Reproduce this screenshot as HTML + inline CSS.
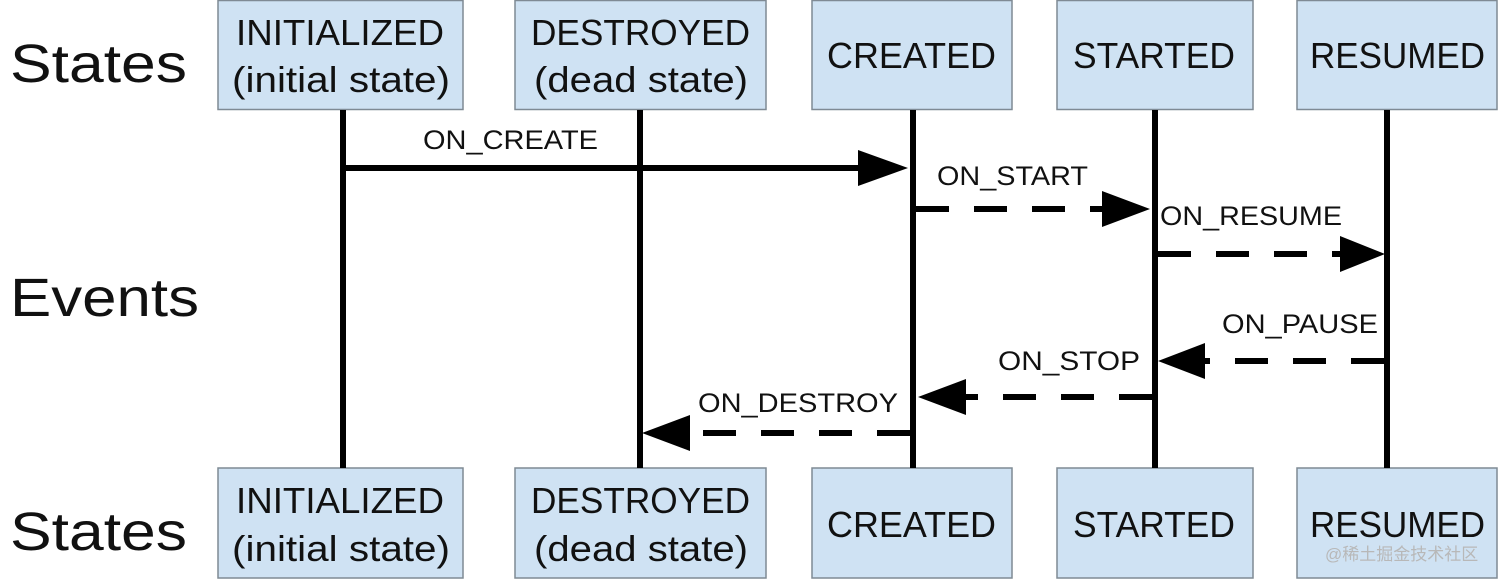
<!DOCTYPE html>
<html><head><meta charset="utf-8"><style>
html,body{margin:0;padding:0;background:#fff;width:1503px;height:583px;overflow:hidden}
svg text{font-family:"Liberation Sans","Noto Sans CJK SC",sans-serif}
</style></head><body>
<svg width="1503" height="583" viewBox="0 0 1503 583" xmlns="http://www.w3.org/2000/svg">
<g fill="#cfe2f3" stroke="#7f8a94" stroke-width="1.5">
<rect x="218" y="0.5" width="245" height="109"/>
<rect x="515" y="0.5" width="251" height="109"/>
<rect x="812" y="0.5" width="200" height="109"/>
<rect x="1057" y="0.5" width="196" height="109"/>
<rect x="1297" y="0.5" width="200" height="109"/>
<rect x="218" y="468" width="245" height="110"/>
<rect x="515" y="468" width="251" height="110"/>
<rect x="812" y="468" width="200" height="110"/>
<rect x="1057" y="468" width="196" height="110"/>
<rect x="1297" y="468" width="200" height="110"/>
</g>
<g stroke="#000" stroke-width="6">
<line x1="343" y1="110" x2="343" y2="468"/>
<line x1="640" y1="110" x2="640" y2="468"/>
<line x1="913" y1="110" x2="913" y2="468"/>
<line x1="1155" y1="110" x2="1155" y2="468"/>
<line x1="1387" y1="110" x2="1387" y2="468"/>
<line x1="346" y1="168" x2="862" y2="168"/>
<g stroke-dasharray="33,25">
<line x1="916" y1="209" x2="1104" y2="209"/>
<line x1="1158" y1="254" x2="1342" y2="254"/>
<line x1="1384" y1="361" x2="1204" y2="361"/>
<line x1="1152" y1="397" x2="964" y2="397"/>
<line x1="910" y1="433" x2="688" y2="433"/>
</g>
</g>
<g fill="#000">
<polygon points="908,168 858,150 858,186"/>
<polygon points="1150,209 1102,191 1102,227"/>
<polygon points="1385,254 1340,236 1340,272"/>
<polygon points="1158,361 1205,343 1205,379"/>
<polygon points="918,397 966,379 966,415"/>
<polygon points="642,433 690,415 690,451"/>
</g>
<g font-size="36" fill="#111" lengthAdjust="spacingAndGlyphs">
<text x="236" y="45" textLength="208" lengthAdjust="spacingAndGlyphs">INITIALIZED</text>
<text x="232" y="92" textLength="218" lengthAdjust="spacingAndGlyphs">(initial state)</text>
<text x="531" y="45" textLength="219" lengthAdjust="spacingAndGlyphs">DESTROYED</text>
<text x="534" y="92" textLength="214" lengthAdjust="spacingAndGlyphs">(dead state)</text>
<text x="827" y="68" textLength="169" lengthAdjust="spacingAndGlyphs">CREATED</text>
<text x="1073" y="68" textLength="162" lengthAdjust="spacingAndGlyphs">STARTED</text>
<text x="1310" y="68" textLength="175" lengthAdjust="spacingAndGlyphs">RESUMED</text>
<text x="236" y="513" textLength="208" lengthAdjust="spacingAndGlyphs">INITIALIZED</text>
<text x="232" y="561" textLength="218" lengthAdjust="spacingAndGlyphs">(initial state)</text>
<text x="531" y="513" textLength="219" lengthAdjust="spacingAndGlyphs">DESTROYED</text>
<text x="534" y="561" textLength="214" lengthAdjust="spacingAndGlyphs">(dead state)</text>
<text x="827" y="537" textLength="169" lengthAdjust="spacingAndGlyphs">CREATED</text>
<text x="1073" y="537" textLength="162" lengthAdjust="spacingAndGlyphs">STARTED</text>
<text x="1310" y="537" textLength="175" lengthAdjust="spacingAndGlyphs">RESUMED</text>
</g>
<g font-size="54" fill="#111">
<text x="10" y="82" textLength="177" lengthAdjust="spacingAndGlyphs">States</text>
<text x="10" y="316" textLength="189" lengthAdjust="spacingAndGlyphs">Events</text>
<text x="10" y="550" textLength="177" lengthAdjust="spacingAndGlyphs">States</text>
</g>
<g font-size="27" fill="#111">
<text x="423" y="149" textLength="175" lengthAdjust="spacingAndGlyphs">ON_CREATE</text>
<text x="937" y="185" textLength="151" lengthAdjust="spacingAndGlyphs">ON_START</text>
<text x="1160" y="225" textLength="182" lengthAdjust="spacingAndGlyphs">ON_RESUME</text>
<text x="1222" y="333" textLength="156" lengthAdjust="spacingAndGlyphs">ON_PAUSE</text>
<text x="998" y="370" textLength="142" lengthAdjust="spacingAndGlyphs">ON_STOP</text>
<text x="698" y="412" textLength="200" lengthAdjust="spacingAndGlyphs">ON_DESTROY</text>
</g>
<text x="1325" y="560" font-size="17" fill="#b8b8b8">@稀土掘金技术社区</text>
</svg>
</body></html>
